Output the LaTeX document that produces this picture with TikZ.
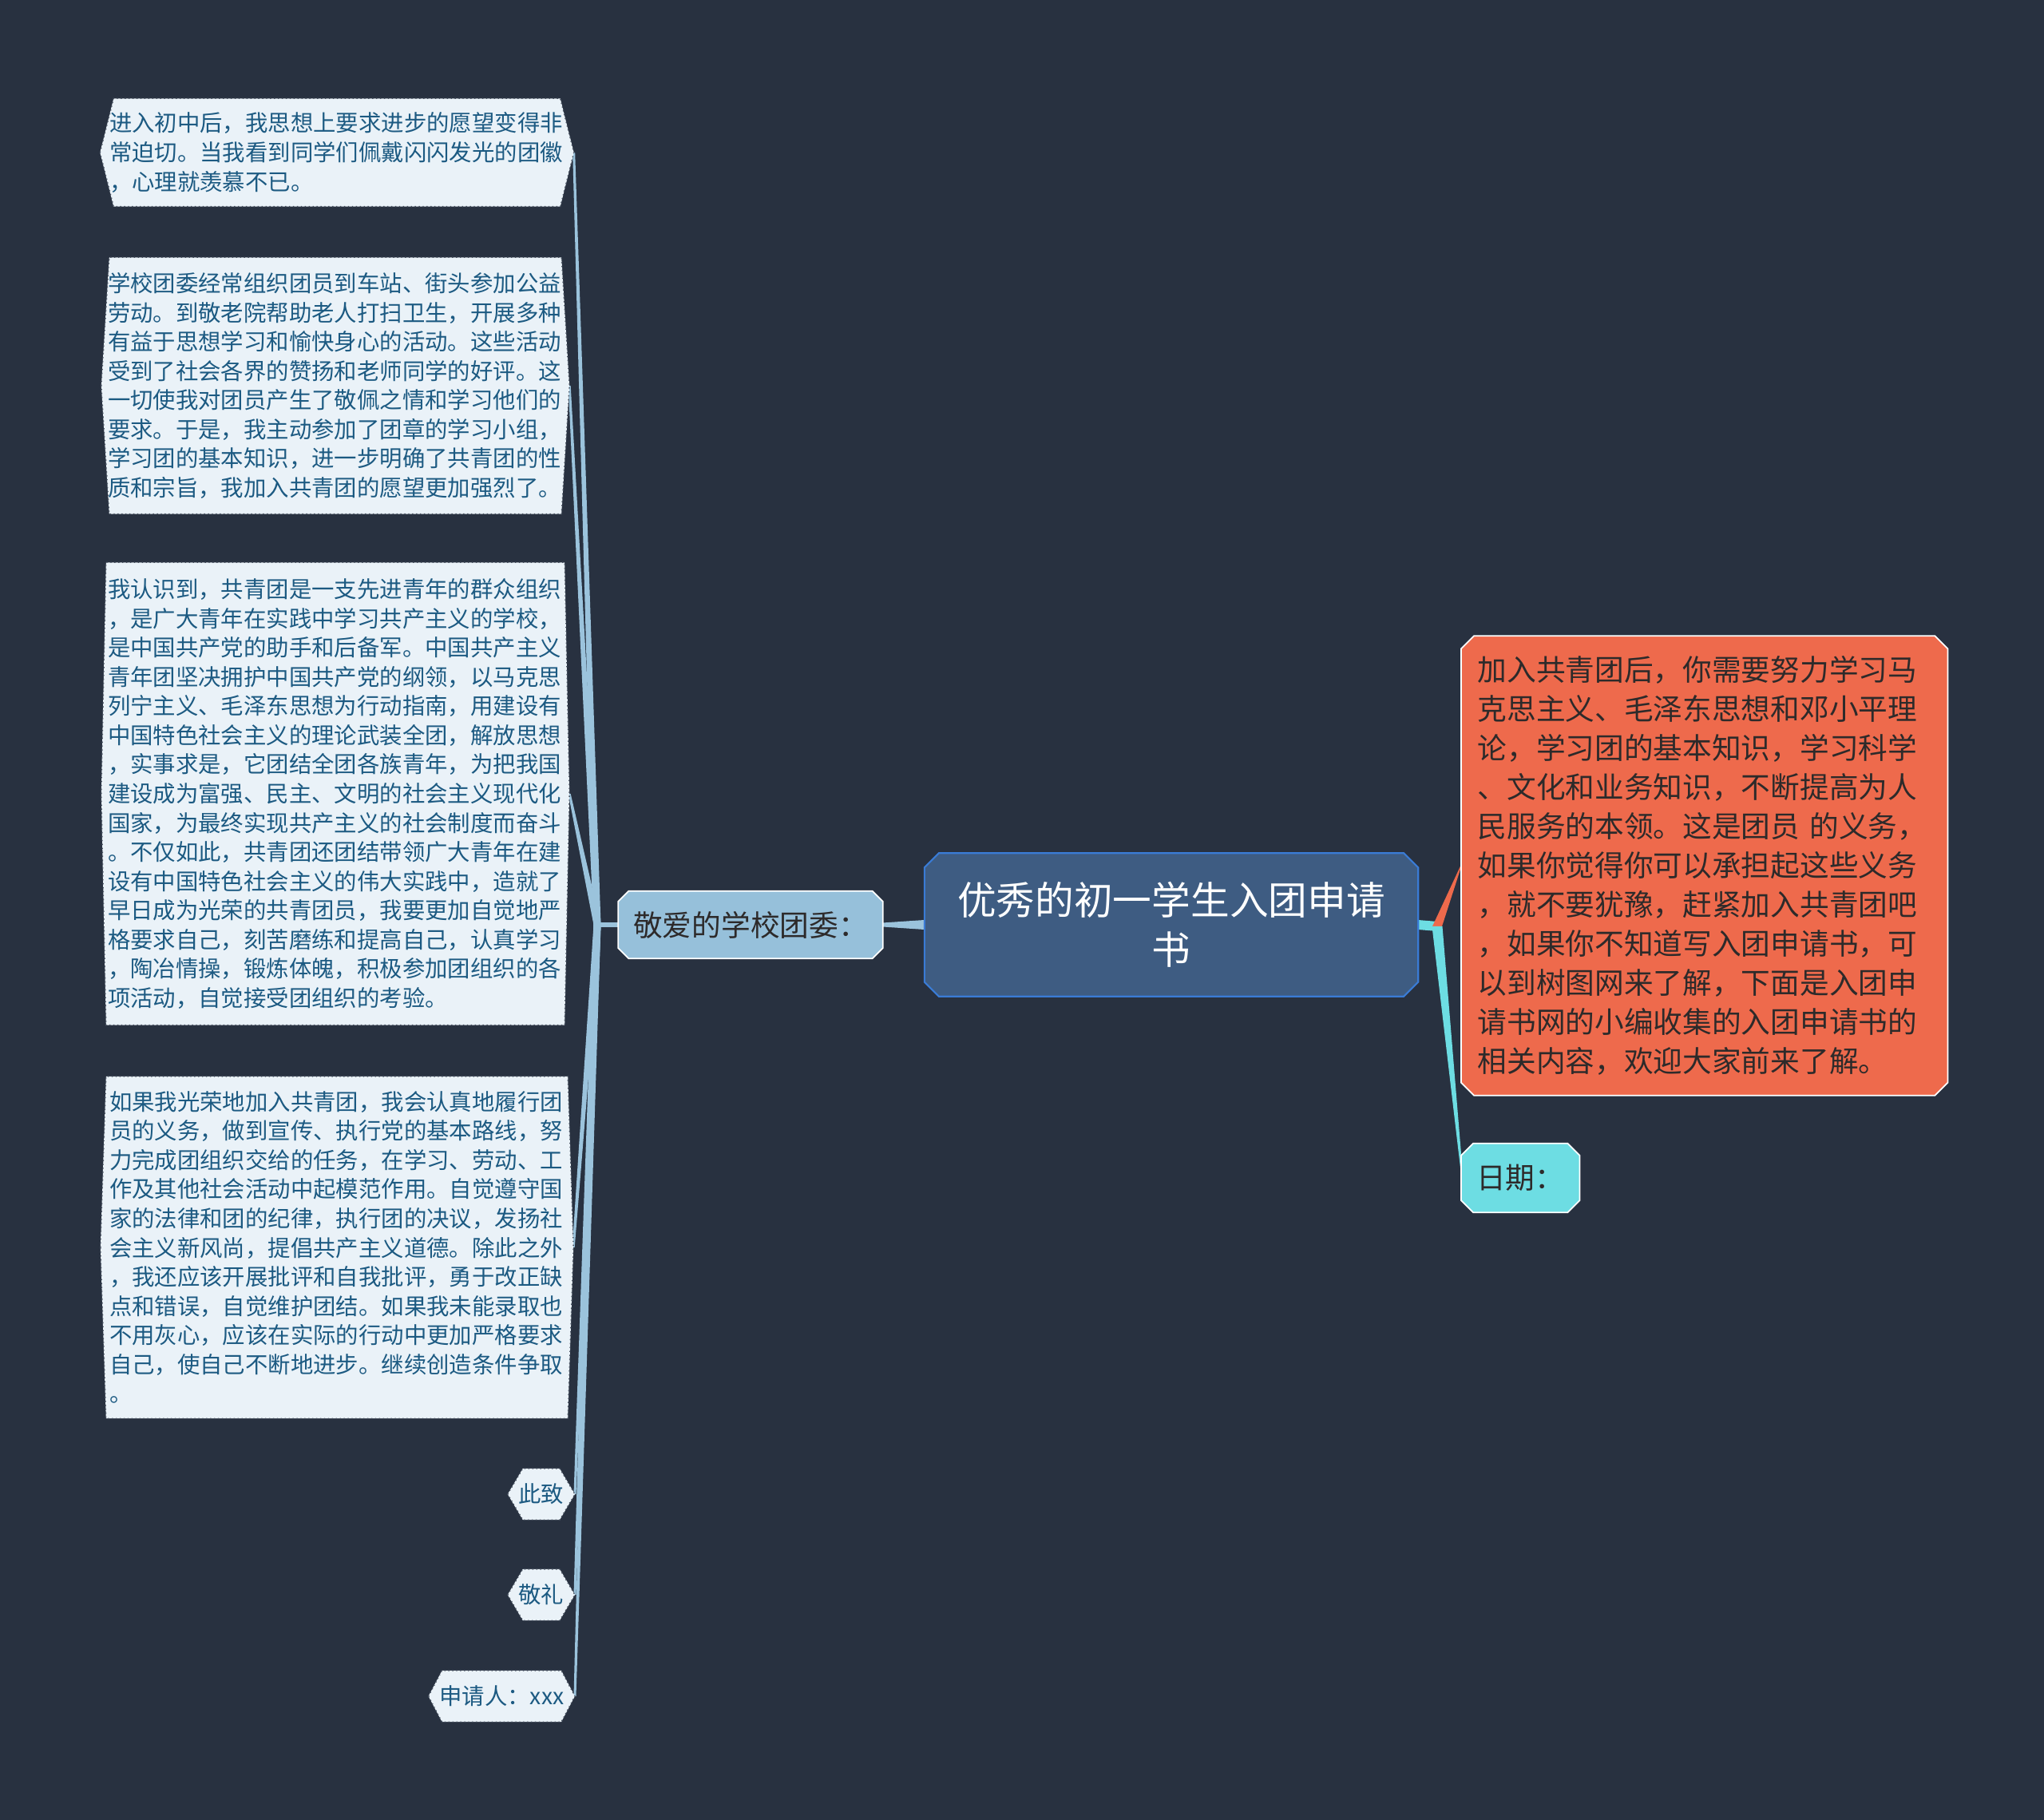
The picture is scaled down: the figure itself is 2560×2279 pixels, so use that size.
\documentclass[tikz,border=0pt]{standalone}
\usepackage{fontspec}
\setmainfont{Noto Sans CJK SC}
\usetikzlibrary{backgrounds}

\definecolor{canvas}{RGB}{40,49,64}
\definecolor{rootfill}{RGB}{62,92,130}
\definecolor{rootline}{RGB}{58,123,213}
\definecolor{dearfill}{RGB}{150,192,218}
\definecolor{leaffill}{RGB}{234,242,248}
\definecolor{leafline}{RGB}{70,80,95}
\definecolor{leafink}{RGB}{28,90,130}
\definecolor{tipfill}{RGB}{238,106,76}
\definecolor{datefill}{RGB}{109,221,227}
\definecolor{branch}{RGB}{155,195,220}
\definecolor{darkink}{RGB}{45,42,42}

\newcommand\leaffont{\fontsize{8.08pt}{10.4pt}\selectfont}
\newcommand\titlefont{\fontsize{13.85pt}{17.6pt}\selectfont}
\newcommand\notefont{\fontsize{10.44pt}{13.94pt}\selectfont}

\begin{document}
\begin{tikzpicture}
  [x=0.1mm, y=-0.1mm,
   leaf/.style={text=leafink, font=\leaffont, align=left, text width=57mm, inner xsep=0.75mm, inner ysep=0pt},
   tag/.style={text=leafink, font=\leaffont, anchor=east, inner xsep=1.3mm, inner ysep=0pt, minimum height=6.3mm},
   leafshape/.style={fill=leaffill, draw=leafline, densely dotted, line width=0.4pt},
   rootbox/.style={text=white, font=\titlefont, align=center, minimum width=61.7mm, minimum height=17.8mm},
   dearbox/.style={text=darkink, font=\notefont, minimum width=33mm, minimum height=8.3mm},
   tipbox/.style={text=darkink, font=\notefont, align=left, text width=56.8mm, inner xsep=2mm, minimum height=57.4mm, anchor=west},
   datebox/.style={text=darkink, font=\notefont, minimum width=14.7mm, minimum height=8.5mm, anchor=west}]

  \useasboundingbox (0,0) rectangle (2560,2279);

  \node[rootbox] (root) at (1467,1158) {优秀的初一学生入团申请\\书};
  \node[dearbox] (dear) at (940,1158) {敬爱的学校团委：};

  \node[leaf, minimum width=59.2mm, minimum height=13.4mm] (p1) at (422,191) {进入初中后，我思想上要求进步的愿望变得非\\常迫切。当我看到同学们佩戴闪闪发光的团徽\\，心理就羡慕不已。};
  \node[leaf, minimum width=58.5mm, minimum height=32mm] (p2) at (420,483) {学校团委经常组织团员到车站、街头参加公益\\劳动。到敬老院帮助老人打扫卫生，开展多种\\有益于思想学习和愉快身心的活动。这些活动\\受到了社会各界的赞扬和老师同学的好评。这\\一切使我对团员产生了敬佩之情和学习他们的\\要求。于是，我主动参加了团章的学习小组，\\学习团的基本知识，进一步明确了共青团的性\\质和宗旨，我加入共青团的愿望更加强烈了。};
  \node[leaf, minimum width=58.5mm, minimum height=57.8mm] (p3) at (420,994) {我认识到，共青团是一支先进青年的群众组织\\，是广大青年在实践中学习共产主义的学校，\\是中国共产党的助手和后备军。中国共产主义\\青年团坚决拥护中国共产党的纲领，以马克思\\列宁主义、毛泽东思想为行动指南，用建设有\\中国特色社会主义的理论武装全团，解放思想\\，实事求是，它团结全团各族青年，为把我国\\建设成为富强、民主、文明的社会主义现代化\\国家，为最终实现共产主义的社会制度而奋斗\\。不仅如此，共青团还团结带领广大青年在建\\设有中国特色社会主义的伟大实践中，造就了\\早日成为光荣的共青团员，我要更加自觉地严\\格要求自己，刻苦磨练和提高自己，认真学习\\，陶冶情操，锻炼体魄，积极参加团组织的各\\项活动，自觉接受团组织的考验。};
  \node[leaf, minimum width=59.1mm, minimum height=42.7mm] (p4) at (422,1562) {如果我光荣地加入共青团，我会认真地履行团\\员的义务，做到宣传、执行党的基本路线，努\\力完成团组织交给的任务，在学习、劳动、工\\作及其他社会活动中起模范作用。自觉遵守国\\家的法律和团的纪律，执行团的决议，发扬社\\会主义新风尚，提倡共产主义道德。除此之外\\，我还应该开展批评和自我批评，勇于改正缺\\点和错误，自觉维护团结。如果我未能录取也\\不用灰心，应该在实际的行动中更加严格要求\\自己，使自己不断地进步。继续创造条件争取\\。};
  \node[tag] (ps1) at (720,1871) {此致};
  \node[tag] (ps2) at (720,1997) {敬礼};
  \node[tag] (ps3) at (720,2124) {申请人：xxx};

  \node[tipbox] (tip) at (1830,1084) {加入共青团后，你需要努力学习马\\克思主义、毛泽东思想和邓小平理\\论，学习团的基本知识，学习科学\\、文化和业务知识，不断提高为人\\民服务的本领。这是团员 的义务，\\如果你觉得你可以承担起这些义务\\，就不要犹豫，赶紧加入共青团吧\\，如果你不知道写入团申请书，可\\以到树图网来了解，下面是入团申\\请书网的小编收集的入团申请书的\\相关内容，欢迎大家前来了解。};
  \node[datebox] (date) at (1830,1475) {日期：};

  \coordinate (lhub) at (748,1158);
  \coordinate (rhub) at (1800,1160);

  \begin{scope}[on background layer]
    \fill[canvas] (0,0) rectangle (2560,2279);

    % connectors
    \fill[branch] ([yshift=0.6mm]root.west) -- ([yshift=0.25mm]dear.east) -- ([yshift=-0.25mm]dear.east) -- ([yshift=-0.6mm]root.west) -- cycle;
    \draw[branch, line width=1.9pt] (dear.west) -- (lhub);
    \foreach \to in {p1,p2,p3,p4,ps1,ps2,ps3}
      \fill[branch] ([xshift=-0.45mm]lhub) -- ([xshift=-0.15mm]\to.east) -- ([xshift=0.15mm]\to.east) -- ([xshift=0.45mm]lhub) -- cycle;
    \fill[datefill] ([yshift=0.6mm]root.east) -- ([yshift=0.6mm]rhub) -- ([yshift=-0.6mm]rhub) -- ([yshift=-0.6mm]root.east) -- cycle;
    \fill[tipfill] ([xshift=-0.6mm]rhub) -- ([yshift=0.15mm]tip.west) -- ([yshift=-0.15mm]tip.west) -- ([xshift=0.6mm]rhub) -- cycle;
    \fill[datefill] ([xshift=-0.65mm]rhub) -- ([xshift=0.05mm]date.west) -- ([xshift=0.25mm]date.west) -- ([xshift=0.65mm]rhub) -- cycle;

    % boxes
    \foreach \n/\d in {p1/1.7mm, p2/1mm, p3/0.6mm, p4/0.7mm, ps1/1.9mm, ps2/1.9mm, ps3/1.7mm}
      \filldraw[leafshape] (\n.west) -- ([xshift=\d]\n.north west) -- ([xshift=-\d]\n.north east) -- (\n.east) -- ([xshift=-\d]\n.south east) -- ([xshift=\d]\n.south west) -- cycle;
    \filldraw[fill=rootfill, draw=rootline, line width=0.6pt] ([xshift=1.8mm]root.north west) -- ([xshift=-1.8mm]root.north east) -- ([yshift=-1.8mm]root.north east) -- ([yshift=1.8mm]root.south east) -- ([xshift=-1.8mm]root.south east) -- ([xshift=1.8mm]root.south west) -- ([yshift=1.8mm]root.south west) -- ([yshift=-1.8mm]root.north west) -- cycle;
    \filldraw[fill=dearfill, draw=white, line width=0.5pt] ([xshift=1.3mm]dear.north west) -- ([xshift=-1.3mm]dear.north east) -- ([yshift=-1.3mm]dear.north east) -- ([yshift=1.3mm]dear.south east) -- ([xshift=-1.3mm]dear.south east) -- ([xshift=1.3mm]dear.south west) -- ([yshift=1.3mm]dear.south west) -- ([yshift=-1.3mm]dear.north west) -- cycle;
    \filldraw[fill=tipfill, draw=white, line width=0.5pt] ([xshift=1.6mm]tip.north west) -- ([xshift=-1.6mm]tip.north east) -- ([yshift=-1.6mm]tip.north east) -- ([yshift=1.6mm]tip.south east) -- ([xshift=-1.6mm]tip.south east) -- ([xshift=1.6mm]tip.south west) -- ([yshift=1.6mm]tip.south west) -- ([yshift=-1.6mm]tip.north west) -- cycle;
    \filldraw[fill=datefill, draw=white, line width=0.5pt] ([xshift=1.5mm]date.north west) -- ([xshift=-1.5mm]date.north east) -- ([yshift=-1.5mm]date.north east) -- ([yshift=1.5mm]date.south east) -- ([xshift=-1.5mm]date.south east) -- ([xshift=1.5mm]date.south west) -- ([yshift=1.5mm]date.south west) -- ([yshift=-1.5mm]date.north west) -- cycle;
  \end{scope}
\end{tikzpicture}
\end{document}
